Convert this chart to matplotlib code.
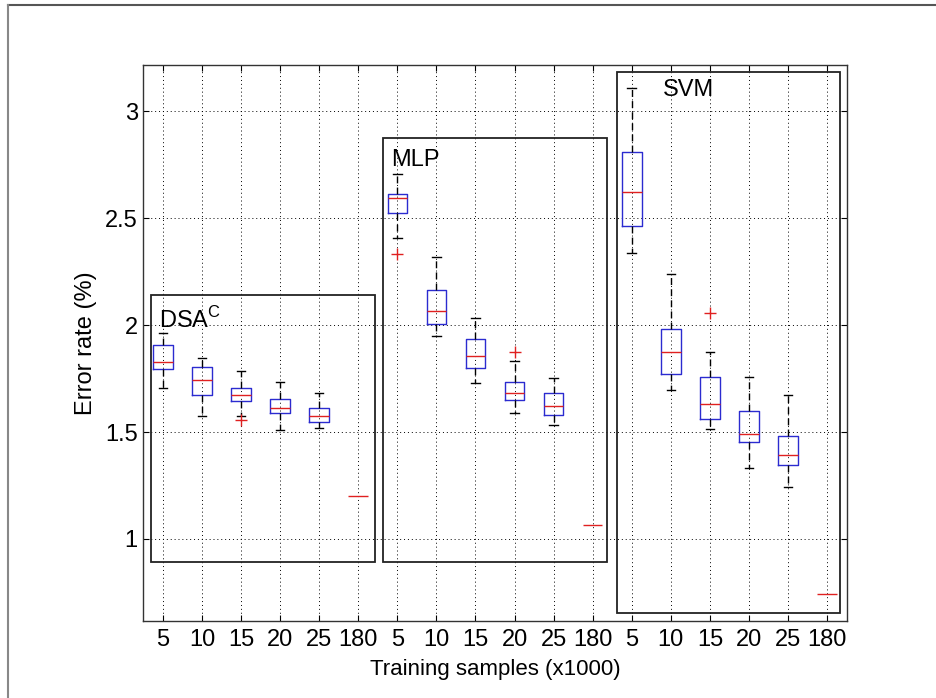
import numpy as np
import matplotlib
matplotlib.use("Agg")
import matplotlib.pyplot as plt
from matplotlib.patches import Rectangle
from matplotlib.lines import Line2D

plt.rcParams["font.family"] = ["Liberation Sans", "DejaVu Sans"]
plt.rcParams["mathtext.fontset"] = "custom"
plt.rcParams["mathtext.rm"] = "Liberation Sans"

# training sizes (x1000), repeated for each method
sizes = ["5", "10", "15", "20", "25", "180"]

# five-number summaries: (whisker low, q1, median, q3, whisker high)
dsa_stats = [
    (1.707, 1.796, 1.827, 1.905, 1.964),
    (1.577, 1.675, 1.744, 1.805, 1.845),
    (1.575, 1.645, 1.675, 1.706, 1.787),
    (1.511, 1.591, 1.614, 1.652, 1.736),
    (1.517, 1.545, 1.575, 1.612, 1.684),
]
dsa_full = 1.203
dsa_outliers = [[], [], [1.555], [], []]

mlp_stats = [
    (2.409, 2.523, 2.594, 2.614, 2.706),
    (1.947, 2.006, 2.066, 2.164, 2.320),
    (1.731, 1.800, 1.856, 1.934, 2.031),
    (1.591, 1.650, 1.683, 1.734, 1.831),
    (1.531, 1.581, 1.623, 1.681, 1.752),
]
mlp_full = 1.066
mlp_outliers = [[2.331], [], [], [1.873], []]

svm_stats = [
    (2.338, 2.462, 2.620, 2.810, 3.108),
    (1.695, 1.770, 1.872, 1.980, 2.237),
    (1.513, 1.563, 1.633, 1.757, 1.872),
    (1.330, 1.453, 1.493, 1.597, 1.757),
    (1.242, 1.347, 1.393, 1.483, 1.672),
]
svm_full = 0.742
svm_outliers = [[], [], [2.058], [], []]

# group frames (x0, x1, y0, y1) in data units and their labels
group_names = ["DSA$^\\mathrm{C}$", "MLP", "SVM"]
group_frames = [(0.70, 6.43, 0.891, 2.142),
                (6.63, 12.36, 0.892, 2.872),
                (12.61, 18.33, 0.656, 3.181)]
label_pos = [(0.90, 1.987), (6.84, 2.744), (13.80, 3.07)]

box_stats, full_stats = [], []
box_pos, full_pos = [], []
p = 1
for stats, full, outliers in [(dsa_stats, dsa_full, dsa_outliers),
                              (mlp_stats, mlp_full, mlp_outliers),
                              (svm_stats, svm_full, svm_outliers)]:
    for (lo, q1, med, q3, hi), fl in zip(stats, outliers):
        box_stats.append(dict(whislo=lo, q1=q1, med=med, q3=q3, whishi=hi,
                              fliers=np.array(fl)))
        box_pos.append(p)
        p += 1
    # full training set: one single run, only the median line is shown
    full_stats.append(dict(whislo=full, q1=full, med=full, q3=full,
                           whishi=full, fliers=np.array([])))
    full_pos.append(p)
    p += 1

fig = plt.figure(figsize=(9.37, 6.98), dpi=100)
ax = fig.add_axes([0.1529, 0.1110, 0.7507, 0.7958])

ax.set_axisbelow(True)
ax.grid(True, color="black", linestyle=(0, (1, 3)), linewidth=0.7)

red = "#e02020"
ax.bxp(box_stats, positions=box_pos, widths=0.5, capwidths=0.22,
       boxprops=dict(color="#2b2bd0", linewidth=1.0),
       medianprops=dict(color=red, linewidth=1.0, zorder=4),
       whiskerprops=dict(color="black", linewidth=1.0, linestyle=(0, (5, 3))),
       capprops=dict(color="black", linewidth=1.0),
       flierprops=dict(marker="+", markeredgecolor=red, markersize=8,
                       linestyle="none"))
ax.bxp(full_stats, positions=full_pos, widths=0.5, showbox=False,
       showcaps=False, whiskerprops=dict(linestyle="none"),
       medianprops=dict(color=red, linewidth=1.0, zorder=4))

for (x0, x1, y0, y1), name, (tx, ty) in zip(group_frames, group_names, label_pos):
    ax.add_patch(Rectangle((x0, y0), x1 - x0, y1 - y0, fill=False,
                           edgecolor="#222222", linewidth=1.3, zorder=3))
    ax.text(tx, ty, name, fontsize=17, va="baseline", ha="left")

n = len(box_pos) + len(full_pos)
ax.set_xlim(0.5, n + 0.5)
ax.set_ylim(0.619, 3.215)
ax.set_xticks(np.arange(1, n + 1))
ax.set_xticklabels(sizes * 3)
ax.set_yticks([1, 1.5, 2, 2.5, 3])
ax.set_yticklabels(["1", "1.5", "2", "2.5", "3"])
ax.tick_params(direction="in", top=True, right=True, length=4.5,
               labelsize=17, pad=4)
ax.tick_params(axis="x", pad=6)
ax.set_xlabel("Training samples (x1000)", fontsize=16, labelpad=6)
ax.set_ylabel("Error rate (%)", fontsize=17, labelpad=6)
for sp in ax.spines.values():
    sp.set_color("#333333")
    sp.set_linewidth(1.0)

# outer frame of the original image
fig.add_artist(Line2D([8 / 937, 1], [1 - 5 / 698, 1 - 5 / 698],
                      color="#555555", linewidth=1.5))
fig.add_artist(Line2D([8 / 937, 8 / 937], [0, 1 - 5 / 698],
                      color="#888888", linewidth=1.5))

fig.savefig("out.png", dpi=100)
